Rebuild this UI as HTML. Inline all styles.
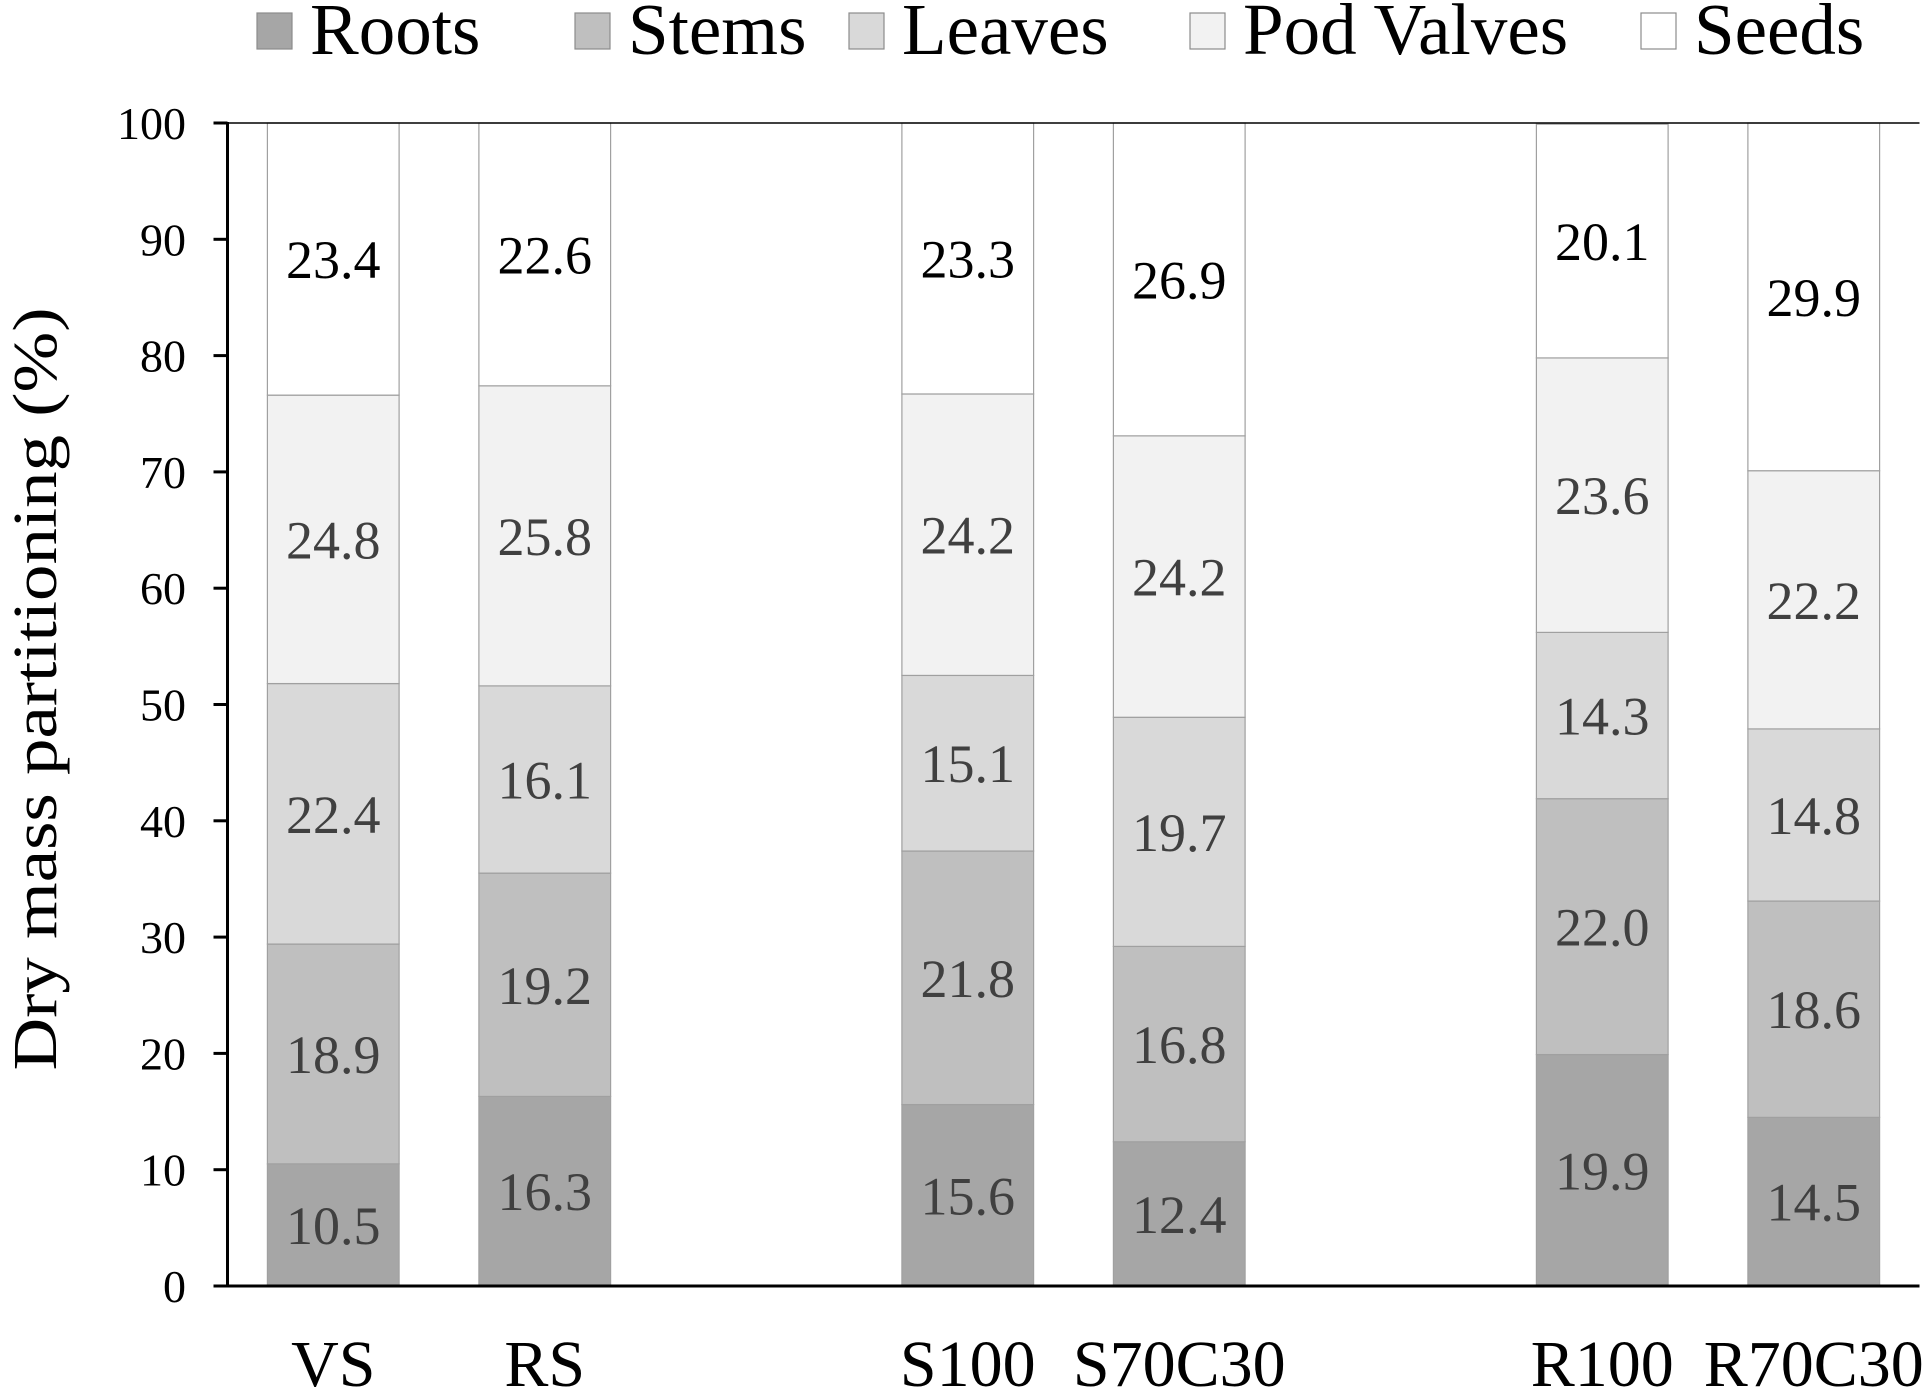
<!DOCTYPE html>
<html><head><meta charset="utf-8"><style>
html,body{margin:0;padding:0;background:#fff;}
svg{display:block;font-family:"Liberation Serif",serif;}
</style></head><body>
<svg id="chart" width="1930" height="1393" viewBox="0 0 1930 1393" xmlns="http://www.w3.org/2000/svg">
<g id="legend"></g>
<g id="bars"></g>
<g id="axes"></g>
<text transform="translate(56,689) rotate(-90)" text-anchor="middle" font-size="62" textLength="763" lengthAdjust="spacingAndGlyphs">Dry mass partitioning (%)</text>
</svg>
<script>
const categories = ["VS","RS","S100","S70C30","R100","R70C30"];
const slots = [0,1,3,4,6,7];
const seriesNames = ["Roots","Stems","Leaves","Pod Valves","Seeds"];
const roots = [10.5,16.3,15.6,12.4,19.9,14.5];
const stems = [18.9,19.2,21.8,16.8,22.0,18.6];
const leaves = [22.4,16.1,15.1,19.7,14.3,14.8];
const podValves = [24.8,25.8,24.2,24.2,23.6,22.2];
const seeds = [23.4,22.6,23.3,26.9,20.1,29.9];
const yTicks = [0,10,20,30,40,50,60,70,80,90,100];

const series = [roots,stems,leaves,podValves,seeds];
const colors = ["#a6a6a6","#bfbfbf","#d9d9d9","#f2f2f2","#ffffff"];
const labelColors = ["#404040","#404040","#404040","#404040","#000000"];
const NS = "http://www.w3.org/2000/svg";
const X0 = 227.5, Y0 = 1286, Y100 = 123, SLOT = 211.5, BW = 131.7;
function y(v){ return Y0 - (Y0 - Y100) * v / 100; }
function xc(s){ return X0 + SLOT * (s + 0.5); }
function mk(tag, attrs, parent){ const e = document.createElementNS(NS, tag); for (const k in attrs) e.setAttribute(k, attrs[k]); parent.appendChild(e); return e; }

const bars = document.getElementById('bars');
categories.forEach((c, i) => {
  let cum = 0;
  series.forEach((arr, si) => {
    const v = arr[i];
    const r = mk('rect', {x: xc(slots[i]) - BW/2, y: y(cum + v), width: BW, height: y(cum) - y(cum + v), fill: colors[si], stroke: '#a0a0a0', 'stroke-width': 1.2}, bars);
    
    
    const t = mk('text', {x: xc(slots[i]), y: y(cum + v/2) + 19, 'text-anchor': 'middle', 'font-size': 54, fill: labelColors[si]}, bars);
    t.textContent = v.toFixed(1);
    
    
    cum += v;
  });
  const cl = mk('text', {x: xc(slots[i]), y: 1386, 'text-anchor': 'middle', 'font-size': 66}, bars);
  cl.textContent = c;
  
  
});

const axes = document.getElementById('axes');
const ya = mk('line', {x1: X0, y1: Y100 - 1, x2: X0, y2: Y0, stroke: '#000', 'stroke-width': 3}, axes);


const xa = mk('line', {x1: X0 - 14, y1: Y0, x2: X0 + SLOT * 8, y2: Y0, stroke: '#000', 'stroke-width': 3}, axes);


const topBorder = mk('line', {x1: X0, y1: Y100, x2: X0 + SLOT * 8, y2: Y100, stroke: '#000', 'stroke-width': 1.5}, axes);


yTicks.forEach(t => {
  const l = mk('line', {x1: X0 - 14, y1: y(t), x2: X0, y2: y(t), stroke: '#000', 'stroke-width': 3}, axes);
  
  
  const tx = mk('text', {x: 186, y: y(t) + 16, 'text-anchor': 'end', 'font-size': 46}, axes);
  tx.textContent = t;
  
  
});

const legend = document.getElementById('legend');
const legX = [257, 575, 849, 1190, 1641];
seriesNames.forEach((n, i) => {
  const sw = mk('rect', {x: legX[i], y: 13, width: 35, height: 36, fill: colors[i], stroke: '#8c8c8c', 'stroke-width': 1.2}, legend);
  
  
  const t = mk('text', {x: legX[i] + 53, y: 54, 'font-size': 73}, legend);
  t.textContent = n;
  
  
});
</script>
</body></html>
